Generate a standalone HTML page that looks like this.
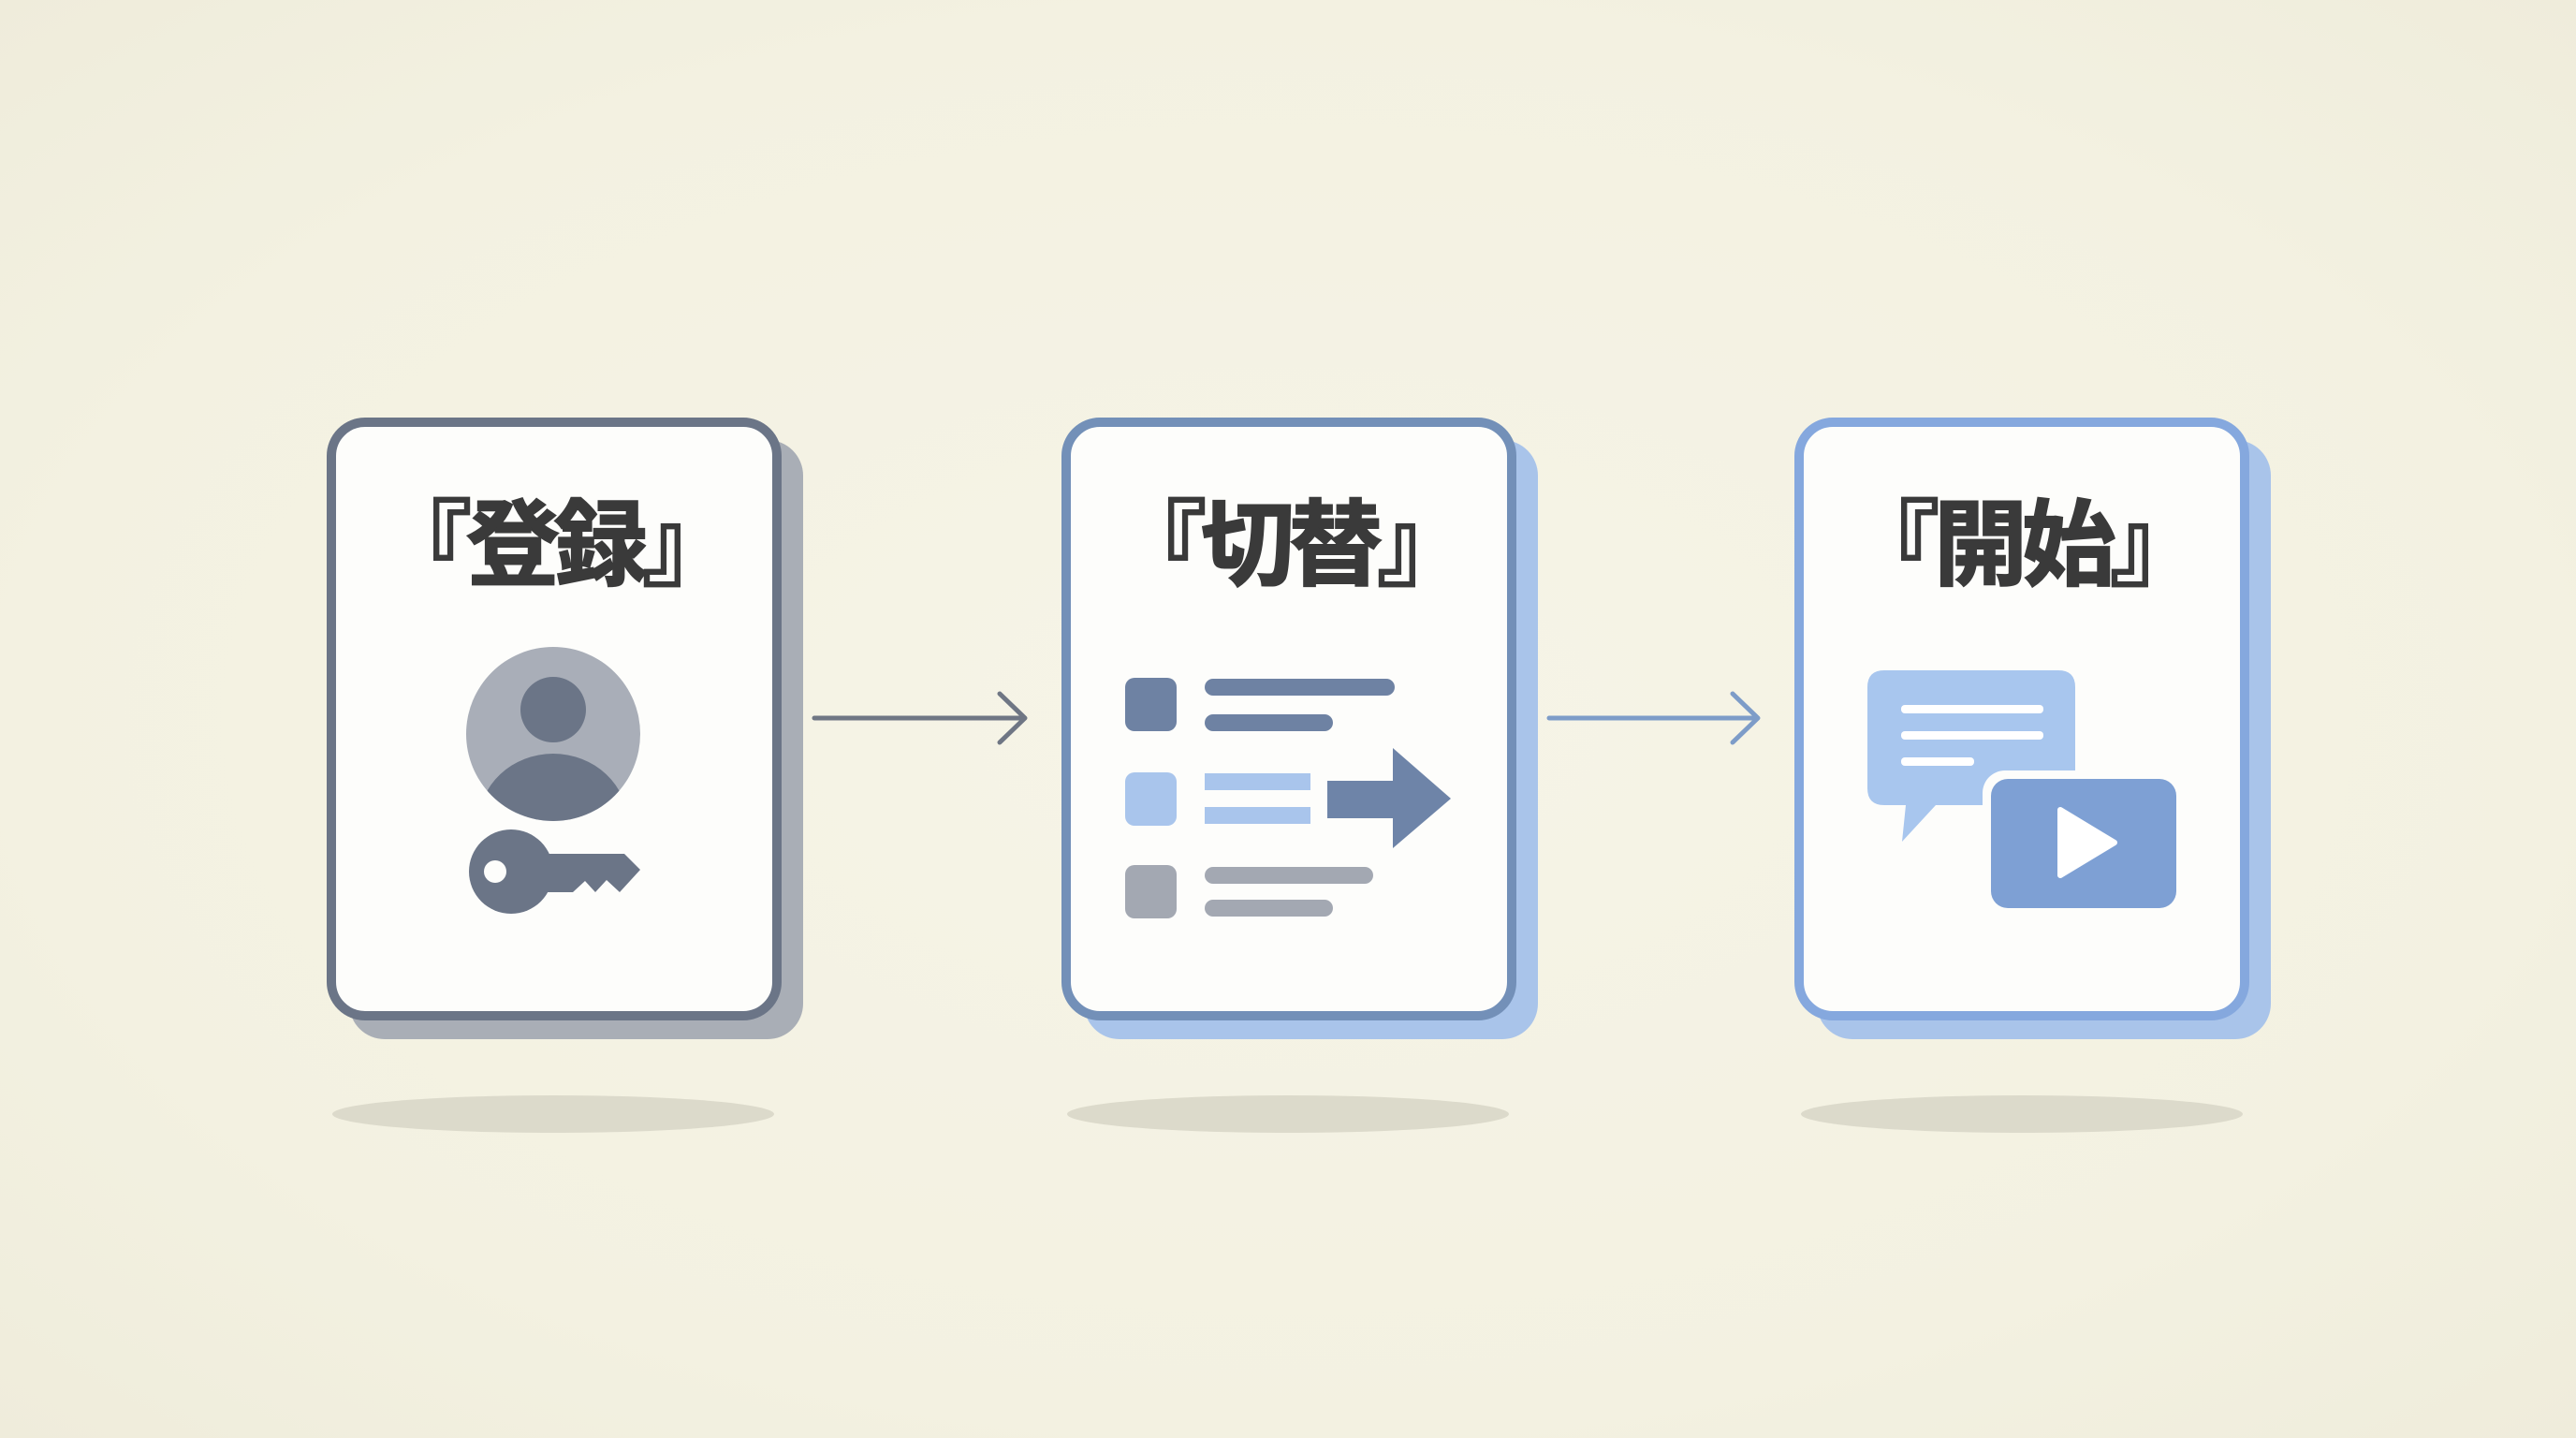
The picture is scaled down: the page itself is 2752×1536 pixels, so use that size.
<!DOCTYPE html>
<html><head><meta charset="utf-8"><style>
html,body{margin:0;padding:0;}
body{width:2752px;height:1536px;overflow:hidden;background:radial-gradient(ellipse at 50% 50%,#f6f4e7 0%,#f3f1e1 70%,#efecdb 100%);}
svg{display:block}
text{font-family:"Liberation Sans","Noto Sans CJK JP",sans-serif;font-weight:bold;}
</style></head><body>
<svg width="2752" height="1536" viewBox="0 0 2752 1536" xmlns="http://www.w3.org/2000/svg">
<ellipse cx="591" cy="1190" rx="236" ry="20" fill="#dcdacb"/>
<ellipse cx="1376" cy="1190" rx="236" ry="20" fill="#dcdacb"/>
<ellipse cx="2160" cy="1190" rx="236" ry="20" fill="#dcdacb"/>

<rect x="373" y="470" width="485" height="640" rx="38" fill="#a9aeb6"/>
<rect x="354" y="451" width="476" height="634" rx="36" fill="#fdfdfb" stroke="#6b7587" stroke-width="10"/>
<text x="592" y="617" font-size="100" text-anchor="middle" fill="#3a3a3a" stroke="#3a3a3a" stroke-width="2" letter-spacing="-6">『登録』</text>
<circle cx="591" cy="784" r="93" fill="#a9aeb8"/>
<clipPath id="cc"><circle cx="591" cy="784" r="93"/></clipPath>
<ellipse cx="591" cy="880" rx="80" ry="75" fill="#6b7587" clip-path="url(#cc)"/>
<circle cx="591" cy="758" r="35" fill="#6b7587"/>
<circle cx="546" cy="931" r="45" fill="#6b7587"/>
<circle cx="529" cy="931" r="12" fill="#fdfdfb"/>
<polygon points="575,912 667,912 684,929 662,953 648,940 636,953 625,941 612,953 575,953" fill="#6b7587"/>

<line x1="870" y1="767" x2="1094" y2="767" stroke="#6f7684" stroke-width="5" stroke-linecap="round"/>
<polyline points="1068,741 1095,767 1068,793" fill="none" stroke="#6f7684" stroke-width="5" stroke-linecap="round" stroke-linejoin="round"/>

<rect x="1158" y="470" width="485" height="640" rx="38" fill="#a9c4ea"/>
<rect x="1139" y="451" width="476" height="634" rx="36" fill="#fdfdfb" stroke="#7390b8" stroke-width="10"/>
<text x="1377" y="617" font-size="100" text-anchor="middle" fill="#3a3a3a" stroke="#3a3a3a" stroke-width="2" letter-spacing="-6">『切替』</text>
<rect x="1202" y="724" width="55" height="57" rx="10" fill="#6e82a3"/>
<rect x="1287" y="725" width="203" height="18" rx="9" fill="#6e82a3"/>
<rect x="1287" y="763" width="137" height="18" rx="9" fill="#6e82a3"/>
<rect x="1202" y="825" width="55" height="57" rx="10" fill="#a9c5ec"/>
<rect x="1287" y="826" width="113" height="18" fill="#a9c5ec"/>
<rect x="1287" y="862" width="113" height="18" fill="#a9c5ec"/>
<polygon points="1418,834 1488,834 1488,799 1550,853 1488,906 1488,874 1418,874" fill="#6e84a8"/>
<rect x="1202" y="924" width="55" height="57" rx="10" fill="#a3a8b2"/>
<rect x="1287" y="926" width="180" height="18" rx="9" fill="#a3a8b2"/>
<rect x="1287" y="961" width="137" height="18" rx="9" fill="#a3a8b2"/>

<line x1="1655" y1="767" x2="1877" y2="767" stroke="#7d9cc8" stroke-width="5" stroke-linecap="round"/>
<polyline points="1851,741 1878,767 1851,793" fill="none" stroke="#7d9cc8" stroke-width="5" stroke-linecap="round" stroke-linejoin="round"/>

<rect x="1941" y="470" width="485" height="640" rx="38" fill="#a9c4ea"/>
<rect x="1922" y="451" width="476" height="634" rx="36" fill="#fdfdfb" stroke="#85a8de" stroke-width="10"/>
<text x="2160" y="617" font-size="100" text-anchor="middle" fill="#3a3a3a" stroke="#3a3a3a" stroke-width="2" letter-spacing="-6">『開始』</text>
<path d="M2013,716 H2199 Q2217,716 2217,734 V842 Q2217,860 2199,860 H2068 L2032,899 L2036,860 H2013 Q1995,860 1995,842 V734 Q1995,716 2013,716 Z" fill="#a8c6ee"/>
<rect x="2031" y="753" width="152" height="9" rx="4" fill="#ffffff"/>
<rect x="2031" y="781" width="152" height="9" rx="4" fill="#ffffff"/>
<rect x="2031" y="809" width="78" height="9" rx="4" fill="#ffffff"/>
<rect x="2118" y="823" width="216" height="156" rx="24" fill="#fdfdfb"/>
<rect x="2127" y="832" width="198" height="138" rx="18" fill="#7ea0d4"/>
<polygon points="2201,865 2259,900 2201,935" fill="#ffffff" stroke="#ffffff" stroke-width="6" stroke-linejoin="round"/>
</svg>
</body></html>
